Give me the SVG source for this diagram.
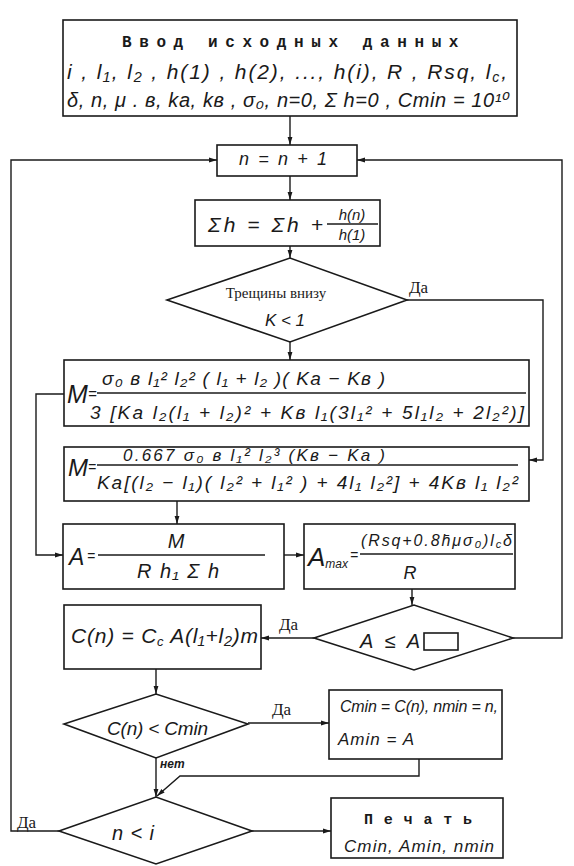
<svg xmlns="http://www.w3.org/2000/svg" width="574" height="866" viewBox="0 0 574 866">
<defs>
<marker id="ah" viewBox="0 0 10 10" refX="10" refY="5" markerWidth="8" markerHeight="8" orient="auto" markerUnits="userSpaceOnUse">
<path d="M0,2 L10,5 L0,8 z" fill="#1a1a1a"/>
</marker>
</defs>
<style>
.s{fill:#fff;stroke:#1a1a1a;stroke-width:1.6}
.c{fill:none;stroke:#1a1a1a;stroke-width:1.4}
.a{fill:none;stroke:#1a1a1a;stroke-width:1.4;marker-end:url(#ah)}
.h{font-family:"Liberation Sans","DejaVu Sans",sans-serif;font-style:italic;fill:#1a1a1a}
.r{font-family:"Liberation Serif","DejaVu Serif",serif;fill:#1a1a1a}
.m{font-family:"Liberation Mono","DejaVu Sans Mono",monospace;font-weight:bold;fill:#1a1a1a}
</style>
<rect width="574" height="866" fill="#fff"/>

<g id="connectors">
<path class="a" d="M290,116 V145"/>
<path class="a" d="M290,176 V200"/>
<path class="a" d="M290,246 V258"/>
<path class="a" d="M290,342 V360"/>
<path class="a" d="M407,300 H543 V460 H529"/>
<path class="a" d="M64,394 H36 V555 H63"/>
<path class="a" d="M177,501 V524"/>
<path class="a" d="M284,555 H304"/>
<path class="a" d="M412,589 V605"/>
<path class="a" d="M314,638 H261"/>
<path class="a" d="M513,638 H562 V160 H357"/>
<path class="a" d="M156,669 V694"/>
<path class="a" d="M248,723 H329"/>
<path class="a" d="M156,758 V797"/>
<path class="a" d="M419,759 V776 H180 L157,796"/>
<path class="a" d="M252,831 H331"/>
<path class="a" d="M59,831 H11 V160 H217"/>
</g>

<g id="input">
<rect class="s" x="63" y="20" width="454" height="96"/>
<text class="m" x="122" y="47" font-size="16" letter-spacing="7.6">Ввод исходных данных</text>
<text class="h" x="67" y="79" font-size="21" textLength="440" lengthAdjust="spacing">i , l₁, l₂ , h(1) , h(2), ..., h(i), R , Rsq, l<tspan font-size="14" dy="3">c</tspan><tspan dy="-3">,</tspan></text>
<text class="h" x="67" y="107" font-size="20" textLength="443" lengthAdjust="spacing">δ, n, μ . в, ka, kв , σ₀, n=0, Σ h=0 , Cmin = 10¹⁰</text>
</g>

<g id="inc">
<rect class="s" x="217" y="145" width="140" height="31"/>
<text class="h" x="239" y="165" font-size="18" textLength="88" lengthAdjust="spacing">n = n + 1</text>
</g>

<g id="sum">
<rect class="s" x="195" y="200" width="185" height="46"/>
<text class="h" x="208" y="232" font-size="21" textLength="115" lengthAdjust="spacing">Σh = Σh  +</text>
<line class="c" x1="327" y1="224" x2="378" y2="224"/>
<text class="h" x="352" y="220" font-size="15" text-anchor="middle">h(n)</text>
<text class="h" x="352" y="240" font-size="15" text-anchor="middle">h(1)</text>
</g>

<g id="crack">
<polygon class="s" points="167,300 290,258 407,300 290,342"/>
<text class="r" x="276" y="298" font-size="15" text-anchor="middle">Трещины внизу</text>
<text class="h" x="285" y="326" font-size="17" text-anchor="middle">K &lt; 1</text>
<text class="r" x="409" y="293" font-size="17">Да</text>
</g>

<g id="m1">
<rect class="s" x="64" y="360" width="465" height="66"/>
<text class="h" x="67" y="403" font-size="25">M</text>
<text class="h" x="88" y="399" font-size="15">=</text>
<line class="c" x1="97" y1="393" x2="526" y2="393"/>
<text class="h" x="102" y="385" font-size="19" textLength="283" lengthAdjust="spacing">σ₀ в l₁² l₂² ( l₁ + l₂ )( Ka − Kв )</text>
<text class="h" x="90" y="419" font-size="19" textLength="434" lengthAdjust="spacing">3 [Ka l₂(l₁ + l₂)² + Kв l₁(3l₁² + 5l₁l₂ + 2l₂²)]</text>
</g>

<g id="m2">
<rect class="s" x="64" y="447" width="465" height="54"/>
<text class="h" x="68" y="476" font-size="24">M</text>
<text class="h" x="88" y="472" font-size="14">=</text>
<line class="c" x1="97" y1="465" x2="518" y2="465"/>
<text class="h" x="123" y="461" font-size="17" textLength="262" lengthAdjust="spacing">0.667 σ₀ в l₁² l₂³  (Kв − Ka )</text>
<text class="h" x="97" y="489" font-size="19" textLength="421" lengthAdjust="spacing">Ka[(l₂ − l₁)( l₂² + l₁² )  +  4l₁ l₂²] + 4Kв l₁ l₂²</text>
</g>

<g id="a">
<rect class="s" x="63" y="524" width="221" height="65"/>
<text class="h" x="69" y="565" font-size="23">A</text>
<text class="h" x="87" y="561" font-size="14">=</text>
<line class="c" x1="98" y1="555" x2="265" y2="555"/>
<text class="h" x="176" y="548" font-size="20" text-anchor="middle">M</text>
<text class="h" x="137" y="578" font-size="20" textLength="82" lengthAdjust="spacing">R h₁ Σ h</text>
</g>

<g id="amax">
<rect class="s" x="304" y="524" width="211" height="65"/>
<text class="h" x="308" y="566" font-size="26">A<tspan font-size="12" dy="2">max</tspan></text>
<text class="h" x="350" y="560" font-size="14">=</text>
<line class="c" x1="360" y1="554" x2="513" y2="554"/>
<text class="h" x="361" y="546" font-size="16" textLength="151" lengthAdjust="spacing">(Rsq+0.8h̄μσ₀)l<tspan font-size="11" dy="2">c</tspan><tspan dy="-2">δ</tspan></text>
<text class="h" x="410" y="579" font-size="18" text-anchor="middle">R</text>
</g>

<g id="check-a">
<polygon class="s" points="314,638 414,605 513,638 414,670"/>
<text class="h" x="360" y="648" font-size="20" textLength="60" lengthAdjust="spacing">A ≤ A</text>
<rect x="424" y="633" width="34" height="17" fill="none" stroke="#1a1a1a" stroke-width="1.6"/>
<text class="r" x="279" y="630" font-size="17">Да</text>
</g>

<g id="cost">
<rect class="s" x="64" y="605" width="197" height="64"/>
<text class="h" x="71" y="643" font-size="21" textLength="187" lengthAdjust="spacing">C(n) = C<tspan font-size="13" dy="3">c</tspan><tspan dy="-3"> A(l₁+l₂)m</tspan></text>
</g>

<g id="check-c">
<polygon class="s" points="64,724 156,694 248,724 156,758"/>
<text class="h" x="107" y="735" font-size="19" textLength="101" lengthAdjust="spacing">C(n) &lt; Cmin</text>
<text class="r" x="272" y="715" font-size="17">Да</text>
<text class="h" x="160" y="768" font-size="12" font-weight="bold">нет</text>
</g>

<g id="store">
<rect class="s" x="329" y="690" width="173" height="69"/>
<text class="h" x="340" y="712" font-size="16" textLength="158" lengthAdjust="spacing">Cmin = C(n), nmin = n,</text>
<text class="h" x="338" y="745" font-size="17" textLength="76" lengthAdjust="spacing">Amin = A</text>
</g>

<g id="check-n">
<polygon class="s" points="59,831 156,797 252,831 156,864"/>
<text class="h" x="112" y="840" font-size="20" textLength="42" lengthAdjust="spacing">n &lt; i</text>
<text class="r" x="17" y="828" font-size="17">Да</text>
</g>

<g id="print">
<rect class="s" x="331" y="798" width="172" height="60"/>
<text class="m" x="364" y="824" font-size="15" textLength="108" lengthAdjust="spacing">Печать</text>
<text class="h" x="344" y="852" font-size="17" textLength="150" lengthAdjust="spacing">Cmin, Amin, nmin</text>
</g>
</svg>
